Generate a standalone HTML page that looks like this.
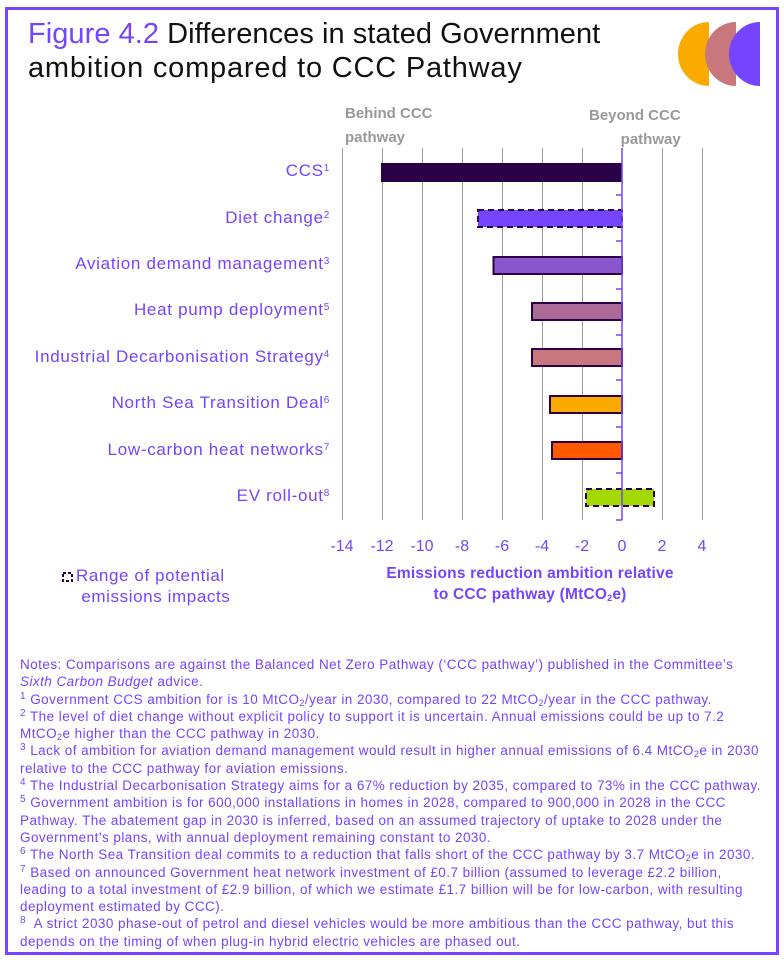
<!DOCTYPE html>
<html><head><meta charset="utf-8"><style>
body{margin:0;width:784px;height:964px;background:#fff;position:relative;overflow:hidden;font-family:"Liberation Sans",sans-serif}
.frame{position:absolute;left:5px;top:7px;width:768px;height:942px;border:3px solid #7444ff}
.t{position:absolute;white-space:nowrap}
.title{left:28px;font-size:29px;color:#111}
.cat{right:454px;font-size:17px;color:#7444ff;letter-spacing:0.7px}
.notes{position:absolute;left:20px;top:656px;font-size:13.5px;line-height:17.3px;color:#7444ff;letter-spacing:0.45px;white-space:nowrap}
sup{font-size:10px;vertical-align:5px;line-height:0}
sub{font-size:9px;vertical-align:-2px;line-height:0}
</style></head><body>
<div class="frame"></div>
<div class="t title" style="top:18px;letter-spacing:0.05px"><span style="color:#7444ff">Figure 4.2</span> Differences in stated Government</div>
<div class="t title" style="top:52px;letter-spacing:0.8px">ambition compared to CCC Pathway</div>
<svg style="position:absolute;left:0;top:0" width="784" height="964">
<path d="M709,22 A31,32 0 0 0 709,86 Z" fill="#fbab00"/>
<path d="M736,22 A31,32 0 0 0 736,86 Z" fill="#c8777c"/>
<path d="M760,22 A31,32 0 0 0 760,86 Z" fill="#7444ff"/>
<g stroke="#999" stroke-width="1">
<line x1="342.5" y1="148" x2="342.5" y2="520"/><line x1="382.5" y1="148" x2="382.5" y2="520"/><line x1="422.5" y1="148" x2="422.5" y2="520"/><line x1="462.5" y1="148" x2="462.5" y2="520"/><line x1="502.5" y1="148" x2="502.5" y2="520"/><line x1="542.5" y1="148" x2="542.5" y2="520"/><line x1="582.5" y1="148" x2="582.5" y2="520"/><line x1="662.5" y1="148" x2="662.5" y2="520"/><line x1="702.5" y1="148" x2="702.5" y2="520"/>
</g>
<rect x="381" y="163" width="241" height="19" fill="#2a0046"/>
<rect x="478" y="210" width="144" height="17" fill="#7444ff" stroke="#2a0046" stroke-width="2" stroke-dasharray="6,4"/>
<rect x="493.5" y="257" width="128.5" height="17" fill="#8b56cc" stroke="#2a0046" stroke-width="2"/>
<rect x="532" y="303" width="90" height="17" fill="#ac6a96" stroke="#2a0046" stroke-width="2"/>
<rect x="532" y="349" width="90" height="17" fill="#c8777c" stroke="#2a0046" stroke-width="2"/>
<rect x="550" y="396" width="72" height="17" fill="#fbab00" stroke="#2a0046" stroke-width="2"/>
<rect x="552" y="442" width="70" height="17" fill="#ff5a00" stroke="#2a0046" stroke-width="2"/>
<rect x="586" y="489" width="68" height="17" fill="#a3d800" stroke="#2a0046" stroke-width="2" stroke-dasharray="6,4"/>
<g stroke="#7444ff" stroke-width="1.5">
<line x1="622" y1="148" x2="622" y2="520"/>
<line x1="616" y1="195" x2="622" y2="195"/><line x1="616" y1="241" x2="622" y2="241"/><line x1="616" y1="289" x2="622" y2="289"/><line x1="616" y1="335" x2="622" y2="335"/><line x1="616" y1="380" x2="622" y2="380"/><line x1="616" y1="427" x2="622" y2="427"/><line x1="616" y1="473" x2="622" y2="473"/><line x1="616" y1="520" x2="622" y2="520"/>
</g>
<g font-family="Liberation Sans" font-size="16" fill="#7444ff" text-anchor="middle">
<text x="342" y="551">-14</text><text x="382" y="551">-12</text><text x="422" y="551">-10</text><text x="462" y="551">-8</text><text x="502" y="551">-6</text><text x="542" y="551">-4</text><text x="582" y="551">-2</text><text x="622" y="551">0</text><text x="662" y="551">2</text><text x="702" y="551">4</text>
</g>
<rect x="63" y="573" width="9" height="8" fill="none" stroke="#2a0046" stroke-width="2" stroke-dasharray="3,2"/>
</svg>
<div class="t" style="left:345px;top:102px;font-size:15px;font-weight:bold;color:#999;line-height:24px">Behind CCC<br>pathway</div>
<div class="t" style="left:589px;top:104px;font-size:15px;font-weight:bold;color:#999;line-height:24px;text-align:right">Beyond CCC<br>pathway</div>
<div class="t cat" style="top:161px">CCS<sup>1</sup></div>
<div class="t cat" style="top:208px">Diet change<sup>2</sup></div>
<div class="t cat" style="top:254px">Aviation demand management<sup>3</sup></div>
<div class="t cat" style="top:300px">Heat pump deployment<sup>5</sup></div>
<div class="t cat" style="top:347px">Industrial Decarbonisation Strategy<sup>4</sup></div>
<div class="t cat" style="top:393px">North Sea Transition Deal<sup>6</sup></div>
<div class="t cat" style="top:440px">Low-carbon heat networks<sup>7</sup></div>
<div class="t cat" style="top:486px">EV roll-out<sup>8</sup></div>
<div class="t" style="left:76px;top:565px;font-size:17px;color:#7444ff;line-height:21px;letter-spacing:0.6px">Range of potential<br>&nbsp;emissions impacts</div>
<div class="t" style="left:367px;top:563px;font-size:15.5px;font-weight:bold;color:#7444ff;line-height:21px;text-align:center;width:326px;letter-spacing:0.2px">Emissions reduction ambition relative<br>to CCC pathway (MtCO<sub>2</sub>e)</div>
<div class="notes">Notes: Comparisons are against the Balanced Net Zero Pathway (‘CCC pathway’) published in the Committee’s<br><i>Sixth Carbon Budget</i> advice.<br><sup>1</sup> Government CCS ambition for is 10 MtCO<sub>2</sub>/year in 2030, compared to 22 MtCO<sub>2</sub>/year in the CCC pathway.<br><sup>2</sup> The level of diet change without explicit policy to support it is uncertain. Annual emissions could be up to 7.2<br>MtCO<sub>2</sub>e higher than the CCC pathway in 2030.<br><sup>3</sup> Lack of ambition for aviation demand management would result in higher annual emissions of 6.4 MtCO<sub>2</sub>e in 2030<br>relative to the CCC pathway for aviation emissions.<br><sup>4</sup> The Industrial Decarbonisation Strategy aims for a 67% reduction by 2035, compared to 73% in the CCC pathway.<br><sup>5</sup> Government ambition is for 600,000 installations in homes in 2028, compared to 900,000 in 2028 in the CCC<br>Pathway. The abatement gap in 2030 is inferred, based on an assumed trajectory of uptake to 2028 under the<br>Government’s plans, with annual deployment remaining constant to 2030.<br><sup>6</sup> The North Sea Transition deal commits to a reduction that falls short of the CCC pathway by 3.7 MtCO<sub>2</sub>e in 2030.<br><sup>7</sup> Based on announced Government heat network investment of £0.7 billion (assumed to leverage £2.2 billion,<br>leading to a total investment of £2.9 billion, of which we estimate £1.7 billion will be for low-carbon, with resulting<br>deployment estimated by CCC).<br><sup>8</sup>&nbsp; A strict 2030 phase-out of petrol and diesel vehicles would be more ambitious than the CCC pathway, but this<br>depends on the timing of when plug-in hybrid electric vehicles are phased out.</div>
</body></html>
